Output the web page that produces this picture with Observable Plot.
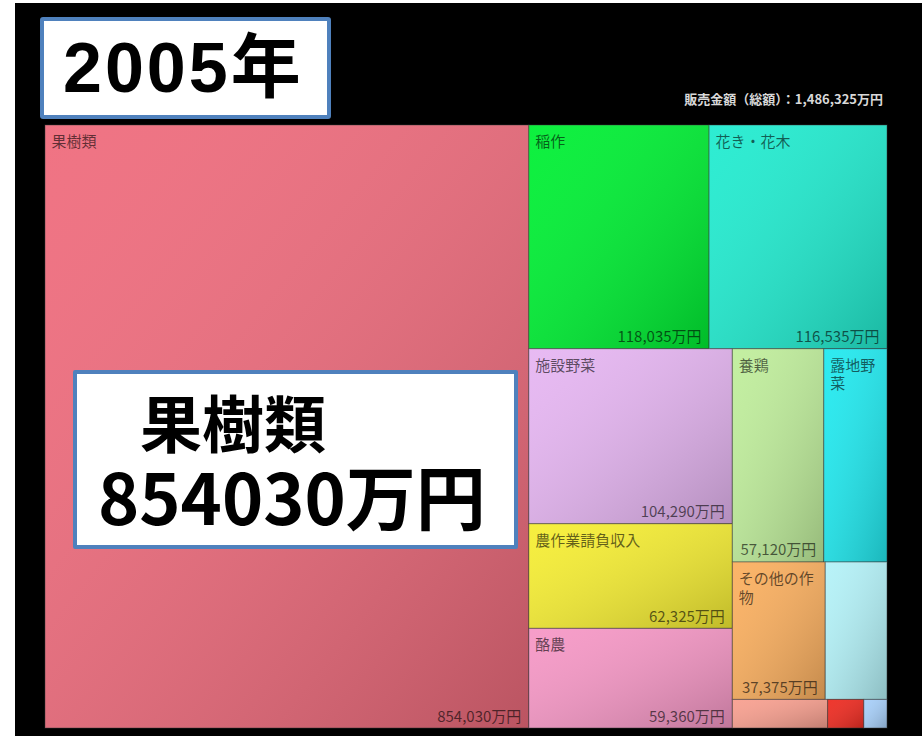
<!DOCTYPE html>
<html>
<head>
<meta charset="utf-8">
<script src="https://cdn.jsdelivr.net/npm/d3@7"></script>
<script src="https://cdn.jsdelivr.net/npm/@observablehq/plot@0.6"></script>
<style>
html, body { margin: 0; padding: 0; background: #fff; }
#wrap { position: relative; width: 922px; height: 736px; overflow: hidden; font-family: "Noto Sans CJK JP", "Noto Sans", sans-serif; }
#bg { position: absolute; left: 15px; top: 3px; width: 907px; height: 733px; background: #000; }
#chart { position: absolute; left: 0; top: 0; }
#year { position: absolute; left: 40px; top: 17px; width: 291px; height: 102px; box-sizing: border-box; background: #fff; border: 4px solid #4f81bd; border-radius: 3px; }
#year span { position: absolute; left: 19px; top: 12px; font: bold 70px/1 "Liberation Sans", "Noto Sans CJK JP", sans-serif; letter-spacing: 3px; color: #000; white-space: nowrap; }
#total { position: absolute; right: 39px; top: 92px; font: bold 13px/1 "Noto Sans CJK JP", sans-serif; color: #d8d8d8; white-space: nowrap; }
#note { position: absolute; left: 73px; top: 370px; width: 445px; height: 179px; box-sizing: border-box; background: #fff; border: 4px solid #4f81bd; border-radius: 2px; }
#note .l1 { position: absolute; left: 63px; top: 16px; font: bold 62px/1 "Noto Sans CJK JP", sans-serif; color: #000; white-space: nowrap; }
#note .l2 { position: absolute; left: 21px; top: 86px; font: bold 70px/1 "Noto Sans CJK JP", sans-serif; color: #000; white-space: nowrap; }
</style>
</head>
<body>
<div id="wrap">
  <div id="bg"></div>
  <div id="chart"></div>
  <div id="year"><span></span></div>
  <div id="total"></div>
  <div id="note"><span class="l1"></span><span class="l2"></span></div>
</div>
<script>
// ---- data ----
const categories = ["果樹類", "稲作", "花き・花木", "施設野菜", "農作業請負収入", "酪農", "養鶏", "露地野菜", "その他の作物", "", "", "", ""];
const values     = [854030, 118035, 116535, 104290, 62325, 59360, 57120, 39460, 37375, 24850, 7980, 3025, 1940];
const colors     = ["#ef6c7d", "#00f034", "#22ecd0", "#e6b6f2", "#f6ee34", "#f698c6", "#c0ee9c", "#22eaf0", "#fbb060", "#b4f2f8", "#f8a090", "#ee2c22", "#a8d0fa"];
const yearTitle  = "2005年";
const totalLabel = "販売金額（総額）：";
const unit       = "万円";
const noteName   = "果樹類";
const noteValue  = 854030;

// ---- layout ----
const total = d3.sum(values);
const fmt = d3.format(",");
const LW = 1489, LH = 1000; // layout space aspect used by the squarified tiling
const PX = [45, 887], PY = [125, 728];
const root = d3.hierarchy({children: categories.map((name, i) => ({name, value: values[i], color: colors[i]}))})
  .sum(d => d.value ?? 0)
  .sort((a, b) => b.value - a.value);
d3.treemap().tile(d3.treemapSquarify).size([LW, LH]).round(false)(root);
const kx = (PX[1] - PX[0]) / LW, ky = (PY[1] - PY[0]) / LH;
const tiles = root.leaves().map(l => ({...l.data, x0: l.x0, x1: l.x1, y0: l.y0, y1: l.y1,
  w: (l.x1 - l.x0) * kx, h: (l.y1 - l.y0) * ky}));

const FS = 15;
const isWide = ch => /[\u3000-\u9fff\uff00-\uffef]/.test(ch);
const charW = c => isWide(c) ? FS : (c === "," ? FS * 0.3 : FS * 0.55);
const textW = s => [...s].reduce((a, c) => a + charW(c), 0);
function wrap(s, avail) {
  const lines = []; let cur = "", cw = 0;
  for (const c of s) {
    const w = charW(c);
    if (cw + w > avail && cur) { lines.push(cur); cur = ""; cw = 0; }
    cur += c; cw += w;
  }
  if (cur) lines.push(cur);
  return lines.join("\n");
}
const valueText = d => fmt(d.value) + unit;

const defs = () => {
  const g = d3.create("svg:defs");
  const lg = g.append("linearGradient").attr("id", "shade")
    .attr("x1", 0).attr("y1", 0).attr("x2", 1).attr("y2", 1);
  lg.append("stop").attr("offset", 0).attr("stop-color", "#fff").attr("stop-opacity", 0.05);
  lg.append("stop").attr("offset", 1).attr("stop-color", "#000").attr("stop-opacity", 0.22);
  return g.node();
};

const chart = Plot.plot({
  width: 922,
  height: 736,
  margin: 0,
  style: {background: "transparent", fontFamily: "'Noto Sans CJK JP', sans-serif"},
  x: {domain: [0, LW], range: PX, axis: null},
  y: {domain: [0, LH], range: PY, axis: null},
  color: {type: "identity"},
  marks: [
    defs,
    Plot.rect(tiles, {x1: "x0", x2: "x1", y1: "y0", y2: "y1", fill: "color", stroke: "#3a3a3a", strokeOpacity: 0.5, strokeWidth: 1}),
    Plot.rect(tiles, {x1: "x0", x2: "x1", y1: "y0", y2: "y1", fill: "url(#shade)"}),
    Plot.text(tiles.filter(d => d.name), {
      x: "x0", y: "y0", text: d => wrap(d.name, d.w - 12),
      textAnchor: "start", lineAnchor: "top", dx: 6, dy: 8, fontSize: FS, lineHeight: 1.25,
      fill: "#000", fillOpacity: 0.6
    }),
    Plot.text(tiles.filter(d => d.name && d.h >= 40 && textW(valueText(d)) <= d.w - 8), {
      x: "x1", y: "y1", text: valueText,
      textAnchor: "end", lineAnchor: "bottom", dx: -8, dy: -7, fontSize: FS,
      fill: "#000", fillOpacity: 0.6
    })
  ]
});
document.getElementById("chart").append(chart);
document.querySelector("#year span").textContent = yearTitle;
document.getElementById("total").textContent = totalLabel + fmt(total) + unit;
document.querySelector("#note .l1").textContent = noteName;
document.querySelector("#note .l2").textContent = noteValue + unit;
</script>
</body>
</html>
